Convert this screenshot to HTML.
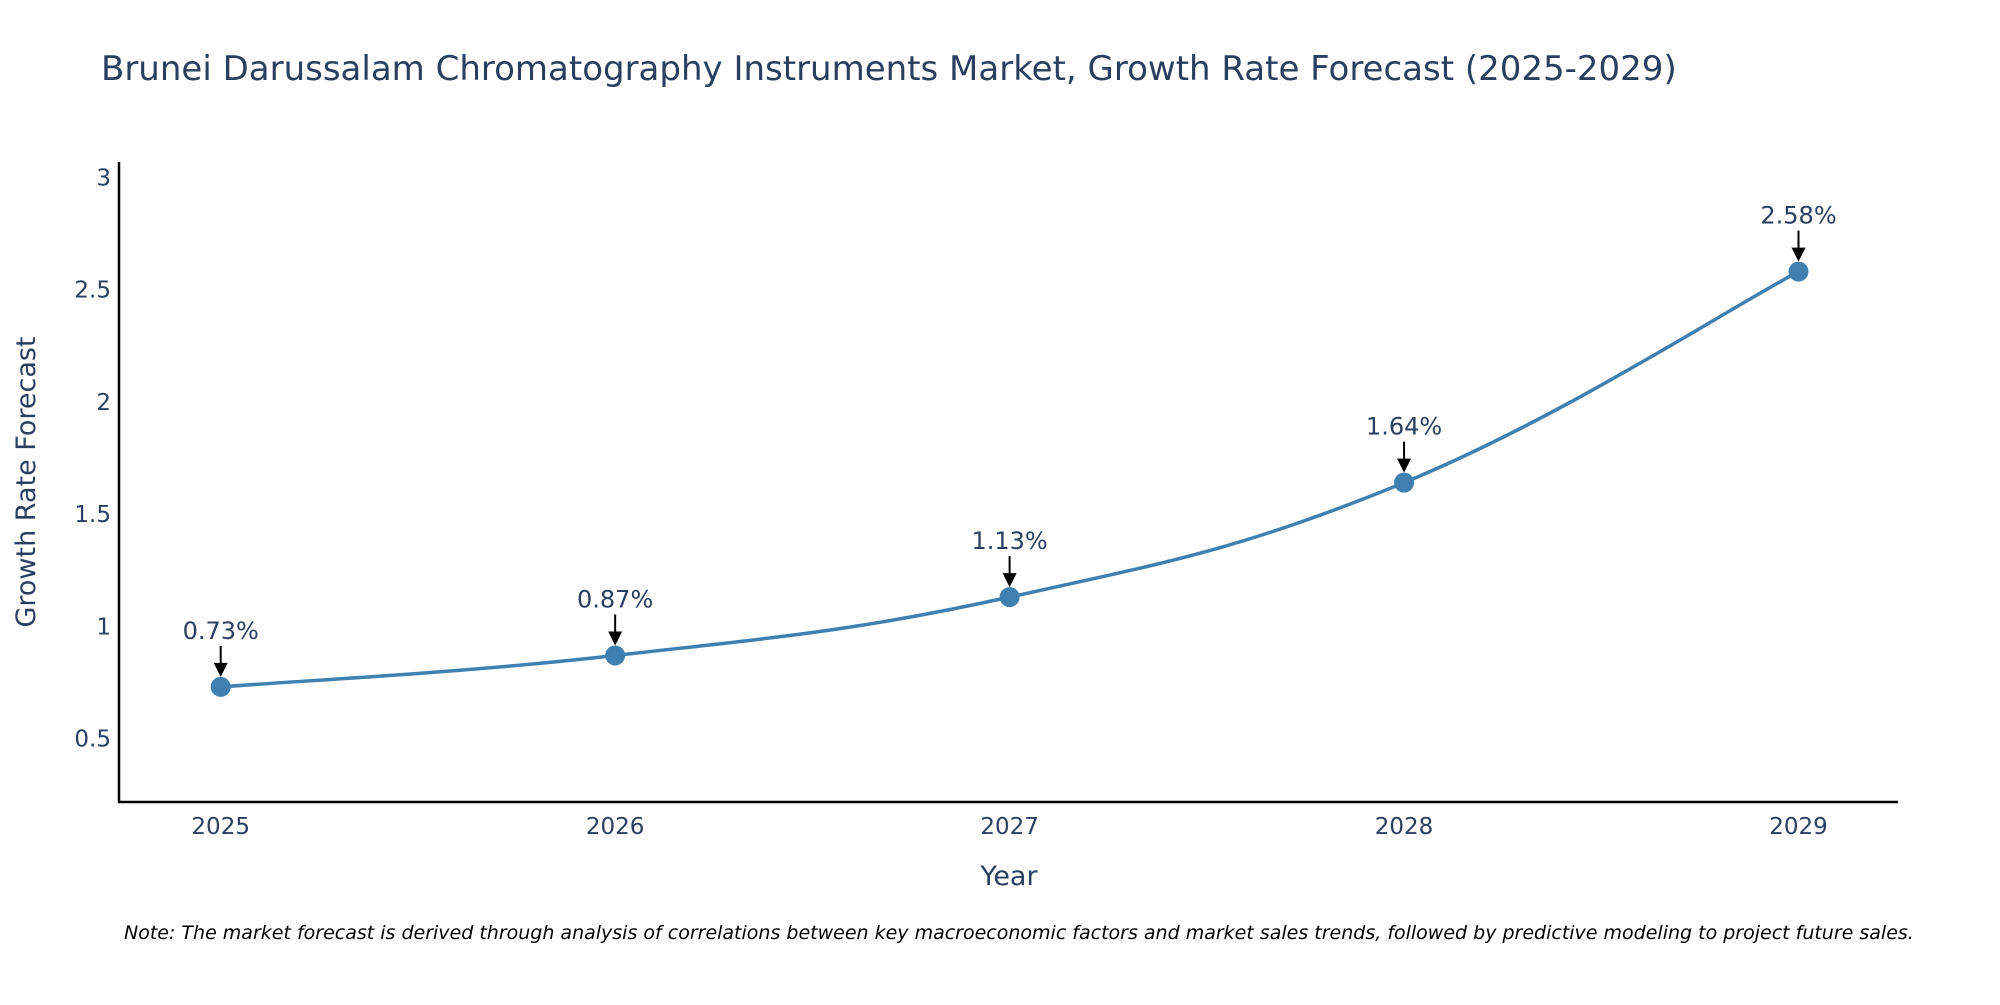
<!DOCTYPE html>
<html><head><meta charset="utf-8"><style>
body{margin:0;background:#fff;}
svg{font-family:"DejaVu Sans","Liberation Sans",sans-serif;}
</style></head><body>
<svg id="chart" width="2000" height="1000" viewBox="0 0 2000 1000" xmlns="http://www.w3.org/2000/svg">
<rect width="2000" height="1000" fill="#fff"/>
<text x="101" y="80" font-size="34" fill="#2a3f5f">Brunei Darussalam Chromatography Instruments Market, Growth Rate Forecast (2025-2029)</text>
<g id="yticks"></g>
<g id="xticks"></g>
<line x1="119" y1="162" x2="119" y2="802" stroke="#000" stroke-width="2.5"/>
<line x1="118" y1="802" x2="1898" y2="802" stroke="#000" stroke-width="2.5"/>
<text transform="translate(35,482) rotate(-90)" text-anchor="middle" font-size="27" fill="#2a3f5f">Growth Rate Forecast</text>
<text x="1009" y="885" text-anchor="middle" font-size="27" fill="#2a3f5f">Year</text>
<g id="series"></g>
<g id="annots"></g>
<text x="124" y="939" font-size="19" font-style="italic" fill="#000">Note: The market forecast is derived through analysis of correlations between key macroeconomic factors and market sales trends, followed by predictive modeling to project future sales.</text>
</svg>
<script>
const categories = [2025, 2026, 2027, 2028, 2029];
const values = [0.73, 0.87, 1.13, 1.64, 2.58];
const valueLabels = ["0.73%", "0.87%", "1.13%", "1.64%", "2.58%"];
const yTicks = [0.5, 1, 1.5, 2, 2.5, 3];
const NS = "http://www.w3.org/2000/svg";
function xs(i){ return 220.7 + (categories[i]-categories[0]) * 394.45; }
function ys(v){ return 177.3 + (3 - v) * 224.5; }
function mk(tag, attrs, parent){ const e=document.createElementNS(NS,tag); for(const k in attrs) e.setAttribute(k,attrs[k]); parent.appendChild(e); return e; }
const yg=document.getElementById('yticks');
yTicks.forEach(t=>{
  const e=mk('text',{x:111,y:ys(t)+8,'text-anchor':'end','font-size':23,fill:'#2a3f5f'},yg);
  
  
  e.textContent=String(t);
});
const xg=document.getElementById('xticks');
categories.forEach((c,i)=>{
  const e=mk('text',{x:xs(i),y:834,'text-anchor':'middle','font-size':23,fill:'#2a3f5f'},xg);
  
  
  e.textContent=String(c);
});
const pts=values.map((v,i)=>[xs(i),ys(v)]);
let d='M'+pts[0][0]+','+pts[0][1];
const s=0.2;
for(let i=0;i<pts.length-1;i++){
  const p0=pts[Math.max(0,i-1)],p1=pts[i],p2=pts[i+1],p3=pts[Math.min(pts.length-1,i+2)];
  const c1=[p1[0]+(p2[0]-p0[0])*s,p1[1]+(p2[1]-p0[1])*s];
  const c2=[p2[0]-(p3[0]-p1[0])*s,p2[1]-(p3[1]-p1[1])*s];
  d+=` C${c1[0]},${c1[1]} ${c2[0]},${c2[1]} ${p2[0]},${p2[1]}`;
}
const sg=document.getElementById('series');
const line=mk('path',{d:d,fill:'none',stroke:'#3f80b0','stroke-width':3.5},sg);


const ag=document.getElementById('annots');
pts.forEach((p,i)=>{
  const c=mk('circle',{cx:p[0],cy:p[1],r:10,fill:'#3f80b0'},sg);
  
  
  const t=mk('text',{x:p[0],y:p[1]-48,'text-anchor':'middle','font-size':24,fill:'#2a3f5f'},ag);
  
  
  t.textContent=valueLabels[i];
  const a=mk('line',{x1:p[0],y1:p[1]-41,x2:p[0],y2:p[1]-22,stroke:'#000','stroke-width':2},ag);
  
  
  const h=mk('path',{d:`M${p[0]-7},${p[1]-24} L${p[0]+7},${p[1]-24} L${p[0]},${p[1]-10} Z`,fill:'#000'},ag);
  
  
});
</script>
</body></html>
